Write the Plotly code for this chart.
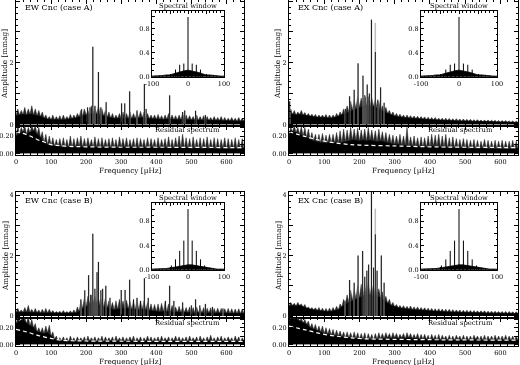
import plotly.graph_objects as go

# ---------------- data ----------------
GRID = list(range(0, 651, 10))      # 66 frequency nodes [µHz]
MID = list(range(5, 646, 10))       # 65 intermediate nodes [µHz]
SW_GRID = list(range(-100, 101, 10))  # spectral window grid

# EW Cnc case A
EWA_floor = [0.28,0.30,0.32,0.30,0.33,0.30,0.28,0.25,0.20,0.16,0.15,0.14,0.15,0.14,0.15,0.16,0.17,0.20,0.24,0.28,
             0.30,0.32,0.35,0.33,0.30,0.27,0.24,0.20,0.18,0.19,0.20,0.20,0.19,0.18,0.19,0.20,0.21,0.19,0.18,0.17,
             0.16,0.16,0.15,0.16,0.17,0.15,0.14,0.15,0.15,0.14,0.14,0.14,0.13,0.13,0.13,0.12,0.12,0.12,0.12,0.11,
             0.11,0.11,0.11,0.10,0.10,0.10]
EWA_grass = [0.50,0.45,0.55,0.50,0.60,0.50,0.45,0.40,0.30,0.25,0.30,0.25,0.28,0.30,0.25,0.32,0.30,0.35,0.45,0.50,
             0.45,0.60,0.55,0.60,0.50,0.45,0.40,0.35,0.30,0.35,0.40,0.35,0.40,0.35,0.40,0.42,0.40,0.35,0.30,0.30,
             0.32,0.28,0.30,0.35,0.30,0.28,0.30,0.35,0.30,0.28,0.25,0.30,0.25,0.28,0.25,0.22,0.25,0.22,0.25,0.22,
             0.20,0.22,0.20,0.22,0.20]
EWA_pk_f = [187,204,211,219,225,235,242,257,301,310,324,345,366,371,438,475,481,512,540]
EWA_pk_g = [0.49,0.55,0.55,2.52,0.60,1.70,0.55,0.72,0.68,0.68,1.07,0.45,1.31,0.50,0.94,0.40,0.45,0.44,0.30]
EWA_pk_b = EWA_pk_g
EWA_res_floor = [0.20,0.22,0.25,0.22,0.24,0.26,0.22,0.18,0.12,0.10,0.09,0.08,0.08,0.07,0.07,0.07,0.07,0.07,0.08,0.07,
                 0.07,0.08,0.07,0.07,0.06,0.07,0.07,0.06,0.07,0.06,0.07,0.07,0.06,0.07,0.06,0.06,0.07,0.06,0.06,0.07,
                 0.06,0.06,0.07,0.06,0.06,0.06,0.07,0.06,0.06,0.06,0.05,0.06,0.06,0.05,0.06,0.05,0.06,0.05,0.05,0.06,
                 0.05,0.05,0.06,0.05,0.05,0.05]
EWA_res_grass = [0.32,0.30,0.32,0.30,0.32,0.32,0.30,0.25,0.22,0.20,0.18,0.16,0.17,0.18,0.16,0.20,0.17,0.18,0.20,0.17,
                 0.18,0.16,0.19,0.17,0.18,0.16,0.17,0.18,0.16,0.19,0.17,0.18,0.16,0.17,0.18,0.17,0.16,0.18,0.17,0.16,
                 0.18,0.16,0.17,0.19,0.16,0.18,0.20,0.22,0.18,0.17,0.19,0.16,0.18,0.17,0.19,0.16,0.18,0.17,0.16,0.18,
                 0.17,0.16,0.18,0.16,0.17]
EWA_noise_f = [0,20,40,60,80,100,120,150,200,300,400,650]
EWA_noise = [0.25,0.23,0.20,0.16,0.13,0.10,0.09,0.08,0.075,0.07,0.07,0.065]

# EX Cnc case A
EXA_floor = [0.35,0.32,0.30,0.32,0.30,0.27,0.25,0.24,0.22,0.22,0.21,0.20,0.20,0.22,0.25,0.30,0.35,0.40,0.45,0.50,
             0.55,0.58,0.60,0.60,0.58,0.52,0.45,0.40,0.35,0.30,0.26,0.24,0.22,0.20,0.20,0.19,0.18,0.17,0.16,0.15,
             0.14,0.14,0.13,0.13,0.12,0.12,0.11,0.11,0.11,0.10,0.10,0.10,0.09,0.09,0.09,0.08,0.08,0.08,0.08,0.07,
             0.07,0.07,0.07,0.06,0.06,0.06]
EXA_grass = [0.50,0.45,0.40,0.45,0.38,0.35,0.33,0.32,0.30,0.30,0.32,0.30,0.30,0.35,0.40,0.50,0.60,0.75,0.80,0.90,
             0.85,0.95,0.90,0.85,0.80,0.75,0.60,0.55,0.45,0.40,0.35,0.33,0.30,0.30,0.28,0.27,0.26,0.25,0.24,0.23,
             0.22,0.22,0.20,0.20,0.20,0.19,0.18,0.18,0.17,0.17,0.16,0.16,0.15,0.15,0.14,0.14,0.14,0.13,0.13,0.12,
             0.12,0.12,0.11,0.11,0.10]
EXA_pk_f = [2,160,172,185,196,210,216,222,228,234,245,252,260,270]
EXA_pk_g = [0.75,0.50,0.91,1.12,1.98,1.58,0.90,1.29,1.00,3.40,3.30,0.80,1.20,0.70]
EXA_pk_b = [0.75,0.50,0.91,1.12,1.98,1.58,0.90,1.29,1.00,3.40,2.35,0.80,1.20,0.70]
EXA_res_floor = [0.22,0.25,0.24,0.22,0.20,0.18,0.16,0.14,0.13,0.12,0.12,0.12,0.12,0.12,0.12,0.12,0.13,0.14,0.15,0.15,
                 0.14,0.15,0.14,0.15,0.14,0.13,0.14,0.13,0.12,0.11,0.10,0.10,0.09,0.09,0.08,0.08,0.08,0.07,0.07,0.07,
                 0.07,0.08,0.08,0.07,0.07,0.06,0.06,0.06,0.06,0.06,0.06,0.05,0.06,0.05,0.05,0.06,0.05,0.05,0.05,0.05,
                 0.05,0.05,0.05,0.05,0.05,0.05]
EXA_res_grass = [0.30,0.32,0.30,0.31,0.30,0.28,0.24,0.22,0.22,0.23,0.21,0.22,0.22,0.24,0.26,0.28,0.27,0.30,0.28,0.29,
                 0.27,0.28,0.30,0.27,0.26,0.28,0.25,0.24,0.22,0.21,0.20,0.22,0.20,0.30,0.19,0.20,0.18,0.19,0.18,0.20,
                 0.22,0.21,0.22,0.20,0.22,0.18,0.19,0.17,0.16,0.17,0.16,0.15,0.16,0.15,0.14,0.16,0.15,0.14,0.15,0.14,
                 0.15,0.14,0.14,0.15,0.14]
EXA_noise_f = [0,50,100,150,200,300,400,500,650]
EXA_noise = [0.25,0.19,0.14,0.11,0.095,0.085,0.075,0.07,0.065]

# EW Cnc case B
EWB_floor = [0.12,0.12,0.12,0.13,0.12,0.11,0.11,0.10,0.10,0.10,0.10,0.09,0.09,0.08,0.09,0.09,0.09,0.10,0.15,0.25,
             0.30,0.40,0.45,0.42,0.35,0.30,0.28,0.25,0.20,0.22,0.25,0.25,0.25,0.22,0.20,0.20,0.22,0.20,0.18,0.15,
             0.14,0.13,0.14,0.15,0.15,0.13,0.12,0.12,0.12,0.11,0.11,0.11,0.10,0.10,0.10,0.10,0.09,0.09,0.09,0.09,
             0.09,0.08,0.08,0.08,0.08,0.08]
EWB_grass = [0.25,0.20,0.28,0.35,0.22,0.25,0.20,0.22,0.25,0.22,0.18,0.15,0.16,0.18,0.15,0.17,0.20,0.30,0.50,0.60,
             0.65,0.70,0.65,0.60,0.55,0.60,0.50,0.45,0.50,0.55,0.50,0.52,0.48,0.50,0.55,0.48,0.50,0.45,0.40,0.38,
             0.40,0.42,0.45,0.40,0.35,0.30,0.32,0.30,0.28,0.30,0.28,0.30,0.27,0.28,0.26,0.27,0.25,0.26,0.25,0.24,
             0.25,0.24,0.23,0.24,0.23]
EWB_pk_f = [185,196,207,213,219,225,231,235,242,247,256,268,300,311,324,335,345,355,366,377,426,438,450,475,500,512,524,540,560,590]
EWB_pk_g = [0.55,0.85,1.35,0.70,2.72,0.90,1.45,1.79,0.85,0.90,1.00,0.60,0.86,0.86,1.20,0.55,0.60,0.50,1.25,0.60,
            0.50,1.00,0.50,0.45,0.35,0.55,0.35,0.40,0.30,0.25]
EWB_pk_b = EWB_pk_g
EWB_res_floor = [0.25,0.28,0.30,0.25,0.22,0.20,0.15,0.14,0.13,0.14,0.10,0.06,0.04,0.04,0.04,0.03,0.04,0.03,0.04,0.04,
                 0.03,0.04,0.04,0.03,0.04,0.03,0.04,0.04,0.03,0.04,0.04,0.03,0.04,0.04,0.03,0.04,0.03,0.04,0.04,0.03,
                 0.04,0.03,0.04,0.04,0.03,0.04,0.04,0.03,0.04,0.03,0.04,0.04,0.03,0.04,0.03,0.04,0.04,0.03,0.04,0.03,
                 0.04,0.04,0.03,0.04,0.03,0.04]
EWB_res_grass = [0.32,0.30,0.32,0.33,0.30,0.25,0.20,0.20,0.22,0.23,0.15,0.10,0.08,0.09,0.08,0.10,0.08,0.09,0.08,0.09,
                 0.10,0.08,0.09,0.08,0.10,0.09,0.08,0.09,0.10,0.08,0.09,0.08,0.09,0.10,0.08,0.09,0.08,0.10,0.09,0.08,
                 0.09,0.10,0.08,0.09,0.08,0.10,0.09,0.08,0.09,0.10,0.08,0.09,0.10,0.08,0.09,0.11,0.08,0.09,0.10,0.08,
                 0.09,0.08,0.10,0.09,0.08]
EWB_noise_f = [0,30,60,90,120,150,200,650]
EWB_noise = [0.18,0.15,0.11,0.08,0.055,0.045,0.04,0.035]

# EX Cnc case B
EXB_floor = [0.32,0.35,0.33,0.35,0.30,0.25,0.22,0.20,0.18,0.16,0.15,0.14,0.15,0.17,0.20,0.30,0.38,0.45,0.50,0.55,
             0.60,0.65,0.70,0.70,0.68,0.65,0.60,0.50,0.42,0.35,0.30,0.27,0.25,0.23,0.22,0.21,0.20,0.19,0.18,0.17,
             0.16,0.15,0.14,0.14,0.13,0.13,0.12,0.12,0.12,0.11,0.11,0.11,0.10,0.10,0.10,0.10,0.09,0.09,0.09,0.09,
             0.09,0.08,0.08,0.08,0.08,0.08]
EXB_grass = [0.45,0.42,0.45,0.40,0.38,0.30,0.28,0.27,0.28,0.26,0.25,0.26,0.28,0.32,0.40,0.55,0.70,0.85,0.90,1.00,
             1.05,1.00,1.10,1.00,0.95,0.90,0.80,0.65,0.55,0.45,0.38,0.35,0.34,0.32,0.33,0.30,0.30,0.28,0.27,0.26,
             0.25,0.24,0.24,0.23,0.22,0.22,0.21,0.20,0.20,0.19,0.19,0.18,0.18,0.17,0.17,0.17,0.16,0.16,0.16,0.15,
             0.15,0.15,0.15,0.14,0.14]
EXB_pk_f = [159,172,185,196,209,215,221,226,234,240,245,250,262,270]
EXB_pk_g = [0.50,1.19,1.10,2.00,2.15,1.30,1.50,1.70,4.50,1.60,3.55,1.50,2.00,1.10]
EXB_pk_b = [0.50,1.19,1.10,2.00,2.15,1.30,1.50,1.70,4.50,1.60,2.70,1.50,2.00,1.10]
EXB_res_floor = [0.28,0.30,0.30,0.28,0.26,0.24,0.20,0.18,0.16,0.15,0.13,0.12,0.11,0.10,0.10,0.09,0.08,0.08,0.07,0.07,
                 0.06,0.06,0.05,0.06,0.05,0.06,0.07,0.07,0.08,0.07,0.08,0.07,0.08,0.07,0.08,0.07,0.07,0.06,0.06,0.06,
                 0.05,0.06,0.05,0.05,0.06,0.05,0.05,0.05,0.06,0.05,0.05,0.05,0.05,0.06,0.05,0.05,0.05,0.05,0.05,0.05,
                 0.05,0.05,0.05,0.05,0.05,0.05]
EXB_res_grass = [0.33,0.32,0.33,0.31,0.30,0.28,0.25,0.24,0.22,0.22,0.20,0.19,0.18,0.17,0.16,0.15,0.15,0.14,0.15,0.14,
                 0.13,0.14,0.13,0.12,0.13,0.14,0.13,0.14,0.13,0.14,0.13,0.12,0.13,0.14,0.13,0.12,0.13,0.12,0.12,0.11,
                 0.12,0.11,0.12,0.11,0.10,0.11,0.10,0.11,0.10,0.11,0.10,0.10,0.11,0.10,0.10,0.11,0.10,0.10,0.11,0.10,
                 0.10,0.11,0.10,0.10,0.10]
EXB_noise_f = [0,50,100,150,200,300,650]
EXB_noise = [0.22,0.17,0.12,0.09,0.07,0.06,0.05]

# spectral windows
SWA_floor = [0.01,0.01,0.02,0.02,0.03,0.03,0.05,0.07,0.09,0.10,0.11,0.10,0.09,0.07,0.05,0.03,0.03,0.02,0.02,0.01,0.01]
SWA_pk_f = [-34.7,-23.1,-11.6,0,11.6,23.1,34.7]
SWA_pk = [0.12,0.20,0.22,1.0,0.22,0.20,0.12]
SWB_floor = [0.01,0.01,0.01,0.02,0.02,0.03,0.04,0.06,0.07,0.08,0.08,0.08,0.07,0.06,0.04,0.03,0.02,0.02,0.01,0.01,0.01]
SWB_pk_f = [-46.3,-34.7,-23.1,-11.6,0,11.6,23.1,34.7,46.3]
SWB_pk = [0.07,0.17,0.31,0.48,1.0,0.48,0.31,0.17,0.07]

TITLES = ["EW Cnc (case A)", "EX Cnc (case A)", "EW Cnc (case B)", "EX Cnc (case B)"]

# ---------------- layout geometry (pixels) ----------------
W, H = 520, 365
FONT = "DejaVu Serif"
def PX(x): return x / W
def PY(y): return 1 - y / H

panels = [
    dict(title=TITLES[0], x0=16, x1=244, top=0, mid=126, bot=155, ins=(152, 224, 11, 77),
         floor=EWA_floor, grass=EWA_grass, pf=EWA_pk_f, pg=EWA_pk_g, pb=EWA_pk_b,
         rfloor=EWA_res_floor, rgrass=EWA_res_grass, nf=EWA_noise_f, nv=EWA_noise,
         swf=SWA_floor, swpf=SWA_pk_f, swp=SWA_pk, yr=(-0.056, 4.04), rr=(-0.02, 0.316)),
    dict(title=TITLES[1], x0=289, x1=518, top=0, mid=126, bot=155, ins=(421, 497, 11, 77),
         floor=EXA_floor, grass=EXA_grass, pf=EXA_pk_f, pg=EXA_pk_g, pb=EXA_pk_b,
         rfloor=EXA_res_floor, rgrass=EXA_res_grass, nf=EXA_noise_f, nv=EXA_noise,
         swf=SWA_floor, swpf=SWA_pk_f, swp=SWA_pk, yr=(-0.056, 4.04), rr=(-0.02, 0.316)),
    dict(title=TITLES[2], x0=16, x1=244, top=192, mid=318, bot=346, ins=(152, 224, 203, 270),
         floor=EWB_floor, grass=EWB_grass, pf=EWB_pk_f, pg=EWB_pk_g, pb=EWB_pk_b,
         rfloor=EWB_res_floor, rgrass=EWB_res_grass, nf=EWB_noise_f, nv=EWB_noise,
         swf=SWB_floor, swpf=SWB_pk_f, swp=SWB_pk, yr=(-0.066, 4.10), rr=(-0.02, 0.317)),
    dict(title=TITLES[3], x0=289, x1=518, top=192, mid=318, bot=346, ins=(421, 497, 203, 270),
         floor=EXB_floor, grass=EXB_grass, pf=EXB_pk_f, pg=EXB_pk_g, pb=EXB_pk_b,
         rfloor=EXB_res_floor, rgrass=EXB_res_grass, nf=EXB_noise_f, nv=EXB_noise,
         swf=SWB_floor, swpf=SWB_pk_f, swp=SWB_pk, yr=(-0.066, 4.10), rr=(-0.02, 0.317)),
]

def spikes(xs, hs):
    X, Y = [], []
    for f, h in zip(xs, hs):
        X += [f, f, None]
        Y += [0, h, None]
    return X, Y

def serrate(lo, hi):
    X, Y = [], []
    for i in range(len(GRID)):
        X.append(GRID[i]); Y.append(lo[i])
        if i < len(MID):
            X.append(MID[i]); Y.append(hi[i])
    return X, Y

fig = go.Figure()
layout = dict(width=W, height=H, margin=dict(l=0, r=0, t=0, b=0), template="none",
              paper_bgcolor="white", plot_bgcolor="white", showlegend=False,
              annotations=[], font=dict(family=FONT, size=7, color="black"))

def axname(n, kind):
    return f"{kind}axis" if n == 1 else f"{kind}axis{n}"
def axref(n, kind):
    return kind if n == 1 else f"{kind}{n}"

base = dict(showline=True, linecolor="black", linewidth=1, mirror="ticks", ticks="inside",
            tickcolor="black", tickwidth=1, showgrid=False, zeroline=False,
            tickfont=dict(family=FONT, size=6.5, color="black"))
TXT_BIG = dict(family=FONT, size=8, color="black")
TXT_MED = dict(family=FONT, size=7.3, color="black")
TXT_SM = dict(family=FONT, size=6.8, color="black")

n = 0
for p in panels:
    n_main, n_res, n_ins = n + 1, n + 2, n + 3
    n += 3
    xd = [PX(p["x0"]), PX(p["x1"])]
    layout[axname(n_main, "x")] = dict(base, domain=xd, range=[0, 650], anchor=axref(n_main, "y"),
        tickvals=[0, 100, 200, 300, 400, 500, 600], ticklen=4, showticklabels=False,
        minor=dict(dtick=20, ticklen=2, ticks="inside", tickcolor="black"))
    layout[axname(n_main, "y")] = dict(base, domain=[PY(p["mid"]), PY(p["top"])], range=list(p["yr"]),
        anchor=axref(n_main, "x"), tickvals=[0, 1, 2, 3, 4], ticktext=["0", "", "2", "", "4"], ticklen=4,
        minor=dict(dtick=0.2, ticklen=2, ticks="inside", tickcolor="black"))
    layout[axname(n_res, "x")] = dict(base, domain=xd, range=[0, 650], anchor=axref(n_res, "y"),
        tickvals=[0, 100, 200, 300, 400, 500, 600], ticklen=4,
        minor=dict(dtick=20, ticklen=2, ticks="inside", tickcolor="black"))
    layout[axname(n_res, "y")] = dict(base, domain=[PY(p["bot"]), PY(p["mid"])], range=list(p["rr"]),
        anchor=axref(n_res, "x"), tickvals=[0, 0.1, 0.2, 0.3], ticktext=["0.00", "", "0.20", ""], ticklen=4,
        minor=dict(dtick=0.05, ticklen=2, ticks="inside", tickcolor="black"))
    ix0, ix1, iy0, iy1 = p["ins"]
    layout[axname(n_ins, "x")] = dict(base, domain=[PX(ix0), PX(ix1)], range=[-100, 100], anchor=axref(n_ins, "y"),
        tickvals=[-100, -50, 0, 50, 100], ticktext=["-100", "", "0", "", "100"], ticklen=3,
        minor=dict(dtick=10, ticklen=1.5, ticks="inside", tickcolor="black"))
    layout[axname(n_ins, "y")] = dict(base, domain=[PY(iy1), PY(iy0)], range=[-0.005, 1.1], anchor=axref(n_ins, "x"),
        tickvals=[0, 0.2, 0.4, 0.6, 0.8, 1.0], ticktext=["0.0", "", "0.4", "", "0.8", ""], ticklen=3,
        minor=dict(dtick=0.1, ticklen=1.5, ticks="inside", tickcolor="black"))

    xa, ya = axref(n_main, "x"), axref(n_main, "y")
    zx, zy = serrate(p["floor"], p["grass"])
    fig.add_trace(go.Scatter(x=zx, y=zy, mode="lines", fill="tozeroy", fillcolor="#262626",
                             line=dict(color="#1e1e1e", width=0.5), xaxis=xa, yaxis=ya, hoverinfo="skip"))
    fig.add_trace(go.Scatter(x=GRID, y=p["floor"], mode="lines", fill="tozeroy", fillcolor="black",
                             line=dict(color="black", width=0.5), xaxis=xa, yaxis=ya, hoverinfo="skip"))
    sx, sy = spikes(p["pf"], p["pg"])
    fig.add_trace(go.Scatter(x=sx, y=sy, mode="lines", line=dict(color="#bdbdbd", width=1.5),
                             xaxis=xa, yaxis=ya, hoverinfo="skip"))
    bx, by = spikes(p["pf"], p["pb"])
    fig.add_trace(go.Scatter(x=bx, y=by, mode="lines", line=dict(color="black", width=0.9),
                             xaxis=xa, yaxis=ya, hoverinfo="skip"))
    xr, yr = axref(n_res, "x"), axref(n_res, "y")
    rx, ry = serrate(p["rfloor"], p["rgrass"])
    fig.add_trace(go.Scatter(x=rx, y=ry, mode="lines", fill="tozeroy", fillcolor="#262626",
                             line=dict(color="#1e1e1e", width=0.5), xaxis=xr, yaxis=yr, hoverinfo="skip"))
    fig.add_trace(go.Scatter(x=GRID, y=p["rfloor"], mode="lines", fill="tozeroy", fillcolor="black",
                             line=dict(color="black", width=0.5), xaxis=xr, yaxis=yr, hoverinfo="skip"))
    fig.add_trace(go.Scatter(x=p["nf"], y=p["nv"], mode="lines", line=dict(color="white", width=1.2, dash="4px,3px"),
                             line_shape="spline", xaxis=xr, yaxis=yr, hoverinfo="skip"))
    xi, yi = axref(n_ins, "x"), axref(n_ins, "y")
    fig.add_trace(go.Scatter(x=SW_GRID, y=p["swf"], mode="lines", fill="tozeroy", fillcolor="black",
                             line=dict(color="black", width=0.8), xaxis=xi, yaxis=yi, hoverinfo="skip"))
    wx, wy = spikes(p["swpf"], p["swp"])
    fig.add_trace(go.Scatter(x=wx, y=wy, mode="lines", line=dict(color="black", width=1),
                             xaxis=xi, yaxis=yi, hoverinfo="skip"))

    ann = layout["annotations"]
    ann.append(dict(text=p["title"], x=PX(p["x0"] + 7), y=PY(p["top"] + (7.5 if p["top"] == 0 else 9)),
                    xref="paper", yref="paper", xanchor="left", yanchor="middle", showarrow=False, font=TXT_BIG))
    ann.append(dict(text="Spectral window", x=PX((ix0 + ix1) / 2), y=PY(iy0 - 5), xref="paper", yref="paper",
                    xanchor="center", yanchor="middle", showarrow=False, font=TXT_SM))
    ann.append(dict(text="Residual spectrum", x=PX(ix1 - 2), y=PY(p["mid"] + 4.5), xref="paper", yref="paper",
                    xanchor="right", yanchor="middle", showarrow=False, font=TXT_SM))
    ann.append(dict(text="Amplitude [mmag]", x=PX(p["x0"] - 11), y=PY((p["top"] + p["mid"]) / 2 + 1),
                    xref="paper", yref="paper", xanchor="center", yanchor="middle", textangle=-90,
                    showarrow=False, font=TXT_MED))
    ann.append(dict(text="Frequency [µHz]", x=PX((p["x0"] + p["x1"]) / 2), y=PY(p["bot"] + 15.5),
                    xref="paper", yref="paper", xanchor="center", yanchor="middle", showarrow=False, font=TXT_MED))

fig.update_layout(**layout)
fig.write_html("out.html", config={"displayModeBar": False, "staticPlot": True},
               post_script="document.body.style.margin='0px';document.body.style.overflow='hidden';"
                           "document.body.style.filter='grayscale(1)';")
